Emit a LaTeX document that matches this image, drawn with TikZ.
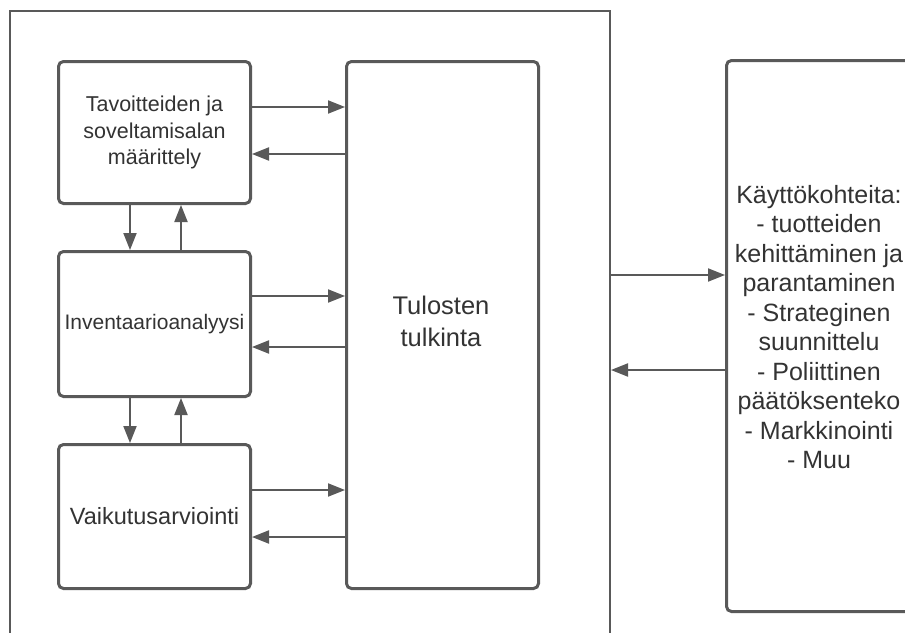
\documentclass[tikz,border=0pt]{standalone}
\usepackage{fontspec}
\setmainfont{Liberation Sans}
\usetikzlibrary{arrows.meta}
\definecolor{ln}{HTML}{595959}
\definecolor{tx}{HTML}{333333}
\tikzset{
  box/.style={draw=ln, line width=3pt, rounded corners=5pt, fill=white, anchor=north west, inner sep=0pt, text=tx, align=center},
  arr/.style={draw=ln, line width=2pt, -{Triangle[length=17pt,width=13pt]}},
}
\begin{document}
\begin{tikzpicture}[x=1pt,y=-1pt]
\useasboundingbox (0,0) rectangle (905,632);
\fill[white] (0,0) rectangle (905,632);
\clip (0,0) rectangle (905,632);
\node[draw=ln, line width=2pt, anchor=north west, minimum width=600pt, minimum height=650pt, inner sep=0pt] (outer) at (9,10) {};
\node[box, minimum width=192pt, minimum height=142pt, font=\fontsize{21.5}{26.5}\selectfont] (b1) at (57,60)
  {Tavoitteiden ja\\soveltamisalan\\määrittely};
\node[box, minimum width=192pt, minimum height=145pt, font=\fontsize{21}{26}\selectfont] (b2) at (57,250)
  {Inventaarioanalyysi};
\node[box, minimum width=192pt, minimum height=144pt, font=\fontsize{23.5}{28}\selectfont] (b3) at (57,443)
  {Vaikutusarviointi};
\node[box, minimum width=192pt, minimum height=527pt] (T) at (345,60) {};
\node[text=tx, align=center, font=\fontsize{25.5}{32}\selectfont] (Tt) at (441,321) {Tulosten\\tulkinta};
\node[box, minimum width=200pt, minimum height=551pt] (R) at (725,59) {};
\node[text=tx, align=center, font=\fontsize{25}{29.5}\selectfont] (Rt) at (819,327)
  {Käyttökohteita:\\- tuotteiden\\kehittäminen ja\\parantaminen\\- Strateginen\\suunnittelu\\- Poliittinen\\päätöksenteko\\- Markkinointi\\- Muu};
% horizontal arrows
\draw[arr] (b1.east |- 0,107) -- (T.west |- 0,107);
\draw[arr] (T.west |- 0,154) -- (b1.east |- 0,154);
\draw[arr] (b2.east |- 0,296) -- (T.west |- 0,296);
\draw[arr] (T.west |- 0,347) -- (b2.east |- 0,347);
\draw[arr] (b3.east |- 0,490) -- (T.west |- 0,490);
\draw[arr] (T.west |- 0,537) -- (b3.east |- 0,537);
% vertical arrows
\draw[arr] (b1.south -| 130,0) -- (b2.north -| 130,0);
\draw[arr] (b2.north -| 181,0) -- (b1.south -| 181,0);
\draw[arr] (b2.south -| 130,0) -- (b3.north -| 130,0);
\draw[arr] (b3.north -| 181,0) -- (b2.south -| 181,0);
% outer to right box
\draw[arr] (outer.east |- 0,275) -- (R.west |- 0,275);
\draw[arr] (R.west |- 0,370) -- (outer.east |- 0,370);
\end{tikzpicture}
\end{document}
